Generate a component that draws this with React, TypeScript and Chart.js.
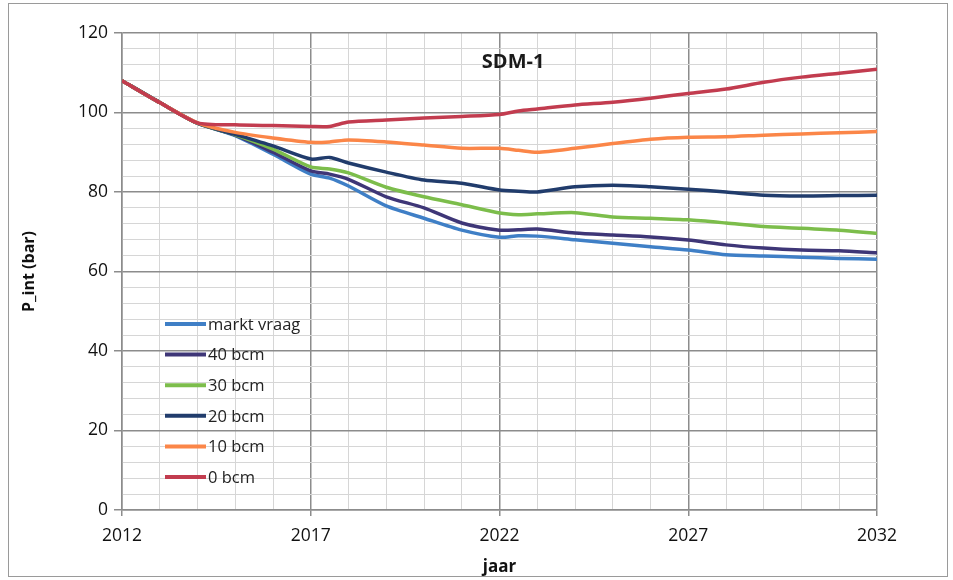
import React, { useEffect, useRef } from "react";
import { Chart, registerables } from "chart.js";

Chart.register(...registerables);

const years = [2012, 2013, 2014, 2015, 2016, 2017, 2017.5, 2018, 2019, 2020, 2021, 2022, 2022.5, 2023, 2024, 2025, 2026, 2027, 2028, 2029, 2030, 2031, 2032];

const marktVraag = [108, 102.5, 97.3, 94.2, 89.5, 84.5, 83.5, 81.5, 76.5, 73.4, 70.4, 68.6, 69.0, 68.9, 68.0, 67.1, 66.2, 65.4, 64.2, 63.9, 63.6, 63.3, 63.1];
const bcm40 = [108, 102.5, 97.3, 94.3, 90.0, 85.3, 84.5, 83.2, 78.8, 76.0, 72.2, 70.4, 70.5, 70.7, 69.7, 69.2, 68.7, 67.9, 66.7, 65.9, 65.4, 65.2, 64.7];
const bcm30 = [108, 102.5, 97.3, 94.4, 90.8, 86.3, 85.8, 84.8, 81.2, 78.8, 76.8, 74.7, 74.3, 74.5, 74.8, 73.7, 73.4, 73.0, 72.2, 71.3, 70.9, 70.4, 69.6];
const bcm20 = [108, 102.5, 97.3, 94.5, 91.6, 88.3, 88.7, 87.3, 85.0, 83.0, 82.2, 80.5, 80.2, 80.0, 81.3, 81.7, 81.3, 80.7, 80.0, 79.2, 79.0, 79.1, 79.2];
const bcm10 = [108, 102.5, 97.4, 95.0, 93.6, 92.5, 92.6, 93.1, 92.6, 91.8, 91.0, 91.0, 90.5, 90.0, 91.0, 92.2, 93.3, 93.8, 93.9, 94.3, 94.6, 94.9, 95.2];
const bcm0 = [108, 102.5, 97.4, 96.9, 96.7, 96.5, 96.5, 97.6, 98.1, 98.6, 99.0, 99.5, 100.4, 100.9, 101.9, 102.6, 103.6, 104.8, 105.9, 107.6, 108.9, 109.9, 110.9];

const seriesNames = ["markt vraag", "40 bcm", "30 bcm", "20 bcm", "10 bcm", "0 bcm"];
const seriesValues = [marktVraag, bcm40, bcm30, bcm20, bcm10, bcm0];
const seriesColors = ["#3f7fc6", "#3e3677", "#7cbd4b", "#213c6c", "#fb8648", "#c23c4f"];

const yTickLabels = [0, 20, 40, 60, 80, 100, 120];
const xTickLabels = [2012, 2017, 2022, 2027, 2032];

const chartTitle = "SDM-1";
const xTitle = "jaar";
const yTitle = "P_int (bar)";

const FONT = "'Open Sans', 'Liberation Sans', sans-serif";

export default function App() {
  const ref = useRef<HTMLCanvasElement | null>(null);

  useEffect(() => {
    if (!ref.current) return;

    const overlay = {
      id: "overlay",
      afterDatasetsDraw(chart: any) {
        const ctx = chart.ctx;
        const area = chart.chartArea;
        ctx.save();
        ctx.fillStyle = "#1a1a1a";
        ctx.font = `bold 20px ${FONT}`;
        ctx.textAlign = "center";
        ctx.textBaseline = "middle";
        ctx.fillText(chartTitle, area.left + (area.right - area.left) * 0.518, 62);
        const x0 = 165;
        const lineLen = 41;
        const yStart = 324;
        const dy = 30.6;
        ctx.font = `16.5px ${FONT}`;
        ctx.textAlign = "left";
        seriesNames.forEach((name, i) => {
          const y = yStart + i * dy;
          ctx.strokeStyle = seriesColors[i];
          ctx.lineWidth = 4;
          ctx.beginPath();
          ctx.moveTo(x0, y);
          ctx.lineTo(x0 + lineLen, y);
          ctx.stroke();
          ctx.fillStyle = "#222";
          ctx.fillText(name, x0 + lineLen + 2, y + 1);
        });
        ctx.restore();
      },
    };

    const chart = new Chart(ref.current, {
      type: "line",
      data: {
        datasets: seriesNames.map((name, i) => ({
          label: name,
          data: years.map((yr, j) => ({ x: yr, y: seriesValues[i][j] })),
          borderColor: seriesColors[i],
          backgroundColor: seriesColors[i],
          borderWidth: 3.5,
          pointRadius: 0,
          tension: 0.25,
          fill: false,
          order: seriesNames.length - i,
        })),
      },
      options: {
        animation: false,
        responsive: false,
        maintainAspectRatio: false,
        layout: { padding: { left: 12, right: 76, top: 33, bottom: 2 } },
        plugins: {
          legend: { display: false },
          title: { display: false },
          tooltip: { enabled: false },
        },
        scales: {
          x: {
            type: "linear",
            min: 2012,
            max: 2032,
            afterFit: (s: any) => {
              s.height = 68;
            },
            ticks: {
              stepSize: 1,
              autoSkip: false,
              maxRotation: 0,
              padding: 10,
              color: "#111",
              font: { family: FONT, size: 17.5 },
              callback: (v: any) => (xTickLabels.includes(Number(v)) ? String(v) : ""),
            },
            grid: {
              color: (c: any) =>
                c.tick && xTickLabels.includes(c.tick.value) ? "#8c8c8c" : "#d6d6d6",
              lineWidth: (c: any) => (c.tick && xTickLabels.includes(c.tick.value) ? 1.5 : 1),
              tickLength: 6,
              tickColor: (c: any) =>
                c.tick && xTickLabels.includes(c.tick.value) ? "#8c8c8c" : "rgba(0,0,0,0)",
            },
            border: { color: "#8c8c8c", width: 1.5 },
            title: {
              display: true,
              text: xTitle,
              color: "#111",
              font: { family: FONT, size: 17, weight: "bold" },
              padding: { top: 0, bottom: 1 },
            },
          },
          y: {
            min: 0,
            max: 120,
            afterFit: (s: any) => {
              s.width = 110;
            },
            ticks: {
              stepSize: 4,
              autoSkip: false,
              padding: 6,
              color: "#111",
              font: { family: FONT, size: 17.5 },
              callback: (v: any) => (yTickLabels.includes(Number(v)) ? String(v) : ""),
            },
            grid: {
              color: (c: any) =>
                c.tick && yTickLabels.includes(c.tick.value) ? "#8c8c8c" : "#d6d6d6",
              lineWidth: (c: any) => (c.tick && yTickLabels.includes(c.tick.value) ? 1.5 : 1),
              tickLength: 8,
              tickColor: (c: any) =>
                c.tick && yTickLabels.includes(c.tick.value) ? "#8c8c8c" : "rgba(0,0,0,0)",
            },
            border: { color: "#8c8c8c", width: 1.5 },
            title: {
              display: true,
              text: yTitle,
              color: "#111",
              font: { family: FONT, size: 16, weight: "bold" },
              padding: { top: 8, bottom: 0 },
            },
          },
        },
      },
      plugins: [overlay],
    });

    return () => chart.destroy();
  }, []);

  return (
    <div style={{ position: "absolute", left: 0, top: 0, width: 953, height: 580, background: "#fff" }}>
      <canvas ref={ref} width={953} height={580} style={{ position: "absolute", left: 0, top: 0 }} />
      <div
        style={{
          position: "absolute",
          left: 8,
          top: 3,
          width: 938,
          height: 572,
          border: "1px solid #9a9a9a",
          pointerEvents: "none",
        }}
      />
    </div>
  );
}
